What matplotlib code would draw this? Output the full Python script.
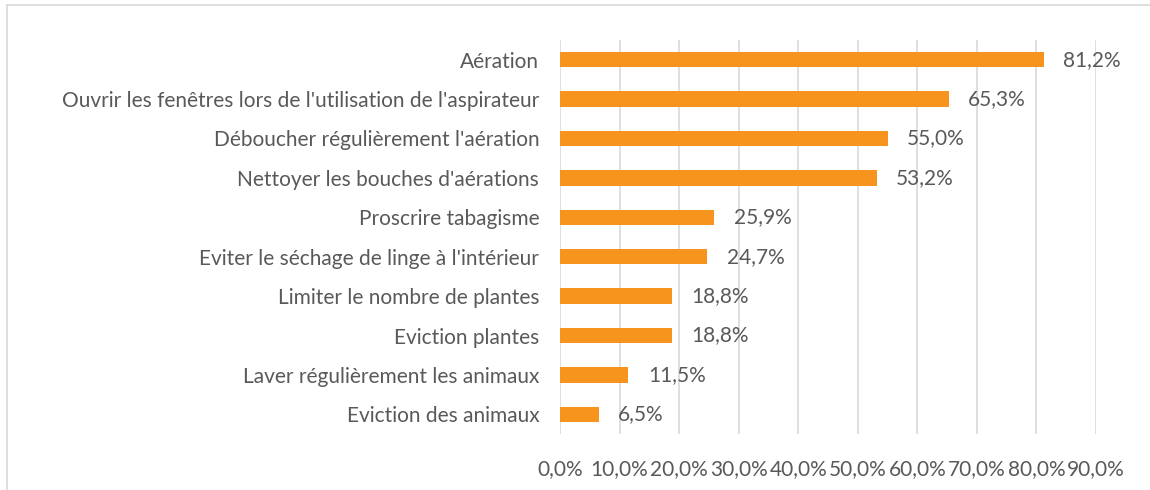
import matplotlib.pyplot as plt
import matplotlib.lines as mlines

categories = ["Aération",
              "Ouvrir les fenêtres lors de l'utilisation de l'aspirateur",
              "Déboucher régulièrement l'aération",
              "Nettoyer les bouches d'aérations",
              "Proscrire tabagisme",
              "Eviter le séchage de linge à l'intérieur",
              "Limiter le nombre de plantes",
              "Eviction plantes",
              "Laver régulièrement les animaux",
              "Eviction des animaux"]
values = [81.2, 65.3, 55.0, 53.2, 25.9, 24.7, 18.8, 18.8, 11.5, 6.5]
ticks = [0, 10, 20, 30, 40, 50, 60, 70, 80, 90]

grey = "#595959"
fs = 15
plt.rcParams['font.family'] = ['Lato', 'DejaVu Sans']

fig = plt.figure(figsize=(11.5, 4.9), dpi=100)
ax = fig.add_axes([560 / 1150, 1 - 434 / 490, (1096 - 560) / 1150, (434 - 40) / 490])

y = list(range(len(categories)))
ax.barh(y, values, height=0.39, color="#f7941d", zorder=3)
for yi, v in zip(y, values):
    ax.annotate(f"{v:.1f}%".replace(".", ","), (v, yi), xytext=(14, 0),
                textcoords="offset points", va="center", ha="left",
                fontsize=fs, color=grey)

ax.set_xlim(0, 90)
ax.set_ylim(len(categories) - 0.5, -0.5)
ax.set_xticks(ticks)
ax.set_xticklabels([f"{t:.1f}%".replace(".", ",") for t in ticks])
ax.set_yticks(y)
ax.set_yticklabels(categories)
ax.tick_params(axis="x", length=0, pad=18, labelsize=fs, labelcolor=grey)
ax.tick_params(axis="y", length=0, pad=15, labelsize=fs, labelcolor=grey)
ax.grid(axis="x", color="#d9d9d9", linewidth=1.2, zorder=0)
for s in ax.spines.values():
    s.set_visible(False)

# chart frame (left and top edges visible)
fig.add_artist(mlines.Line2D([7 / 1150, 7 / 1150], [0, 1 - 5 / 490], color="#d9d9d9", lw=1.2))
fig.add_artist(mlines.Line2D([7 / 1150, 1], [1 - 5 / 490, 1 - 5 / 490], color="#d9d9d9", lw=1.2))

fig.savefig("out.png", dpi=100)
